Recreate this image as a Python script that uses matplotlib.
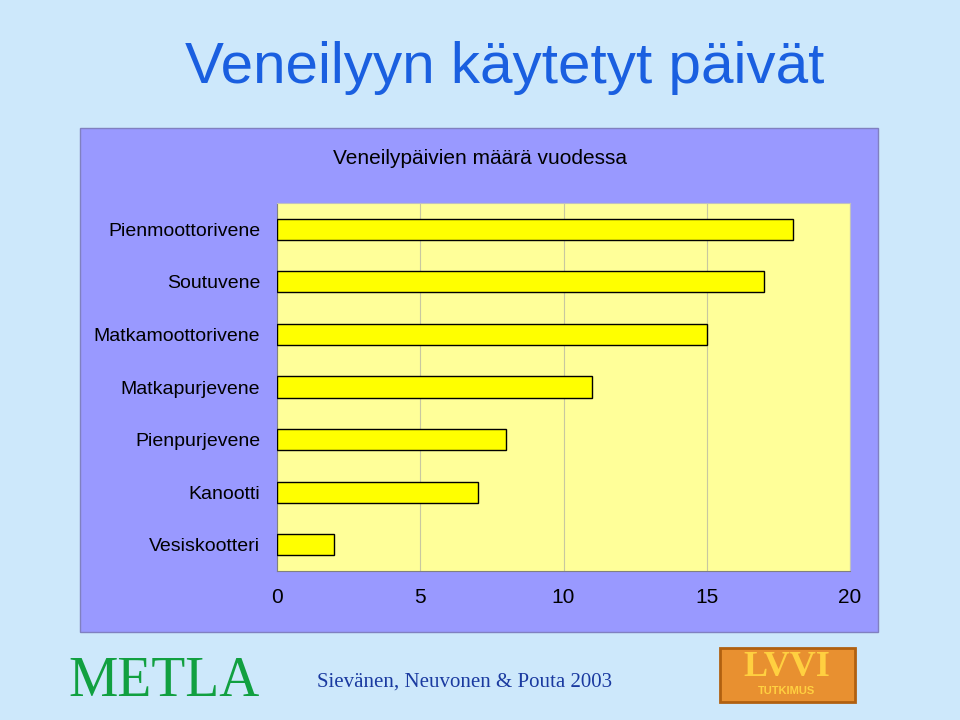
import matplotlib
matplotlib.use("Agg")
import matplotlib.pyplot as plt
from matplotlib.patches import Rectangle

categories = ["Pienmoottorivene", "Soutuvene", "Matkamoottorivene", "Matkapurjevene",
              "Pienpurjevene", "Kanootti", "Vesiskootteri"]
values = [18, 17, 15, 11, 8, 7, 2]
xticks = [0, 5, 10, 15, 20]

fig = plt.figure(figsize=(9.6, 7.2), dpi=100)
fig.patch.set_facecolor("#cde8fb")
W, H = 960, 720
def fx(x): return x / W
def fy(y): return 1 - y / H

fig.text(fx(505), fy(68), "Veneilyyn käytetyt päivät", ha="center", va="center",
         fontsize=42, color="#1a5fe0", family="Liberation Sans")
fig.patches.append(Rectangle((fx(80), fy(632)), fx(878 - 80), (632 - 128) / H,
                             transform=fig.transFigure, facecolor="#9999ff",
                             edgecolor="#8080c0", lw=1, zorder=0))
fig.text(fx(480), fy(158), "Veneilypäivien määrä vuodessa", ha="center", va="center",
         fontsize=15, color="#000000", family="Liberation Sans")

ax = fig.add_axes([fx(277), fy(571), (850 - 277) / W, (571 - 203) / H])
ax.set_zorder(2)
ax.set_facecolor("#ffff99")
y = list(range(len(categories)))
ax.barh(y, values, height=0.4, color="#ffff00", edgecolor="black", lw=1, zorder=3)
ax.set_ylim(len(categories) - 0.5, -0.5)
ax.set_xlim(0, 20)
ax.set_xticks(xticks)
ax.set_xticklabels([str(t) for t in xticks], fontsize=15, family="Liberation Sans")
ax.set_yticks(y)
ax.set_yticklabels(categories, fontsize=14, family="Liberation Sans")
ax.tick_params(axis="y", length=0, pad=12)
ax.tick_params(axis="x", length=0, pad=12)
ax.grid(axis="x", color="#c8c8a0", lw=0.8, zorder=0)
for s in ["top", "right"]:
    ax.spines[s].set_color("#c0c0c0")
for s in ["left", "bottom"]:
    ax.spines[s].set_color("#808080")

fig.text(fx(68), fy(682), "METLA", ha="left", va="center", fontsize=40,
         color="#11a040", family="Liberation Serif", stretch="expanded")
fig.text(fx(465), fy(682), "Sievänen, Neuvonen & Pouta 2003", ha="center", va="center",
         fontsize=15, color="#1a3aa0", family="Liberation Serif")
fig.patches.append(Rectangle((fx(720), fy(702)), fx(135), 54 / H,
                             transform=fig.transFigure, facecolor="#e89030",
                             edgecolor="#b06010", lw=2, zorder=1))
fig.text(fx(787), fy(668), "LVVI", ha="center", va="center", fontsize=26,
         color="#ffd040", weight="bold", family="Liberation Serif")
fig.text(fx(787), fy(691), "TUTKIMUS", ha="center", va="center", fontsize=8,
         color="#ffd040", weight="bold", family="Liberation Sans")

fig.savefig("out.png", dpi=100, facecolor=fig.get_facecolor())
